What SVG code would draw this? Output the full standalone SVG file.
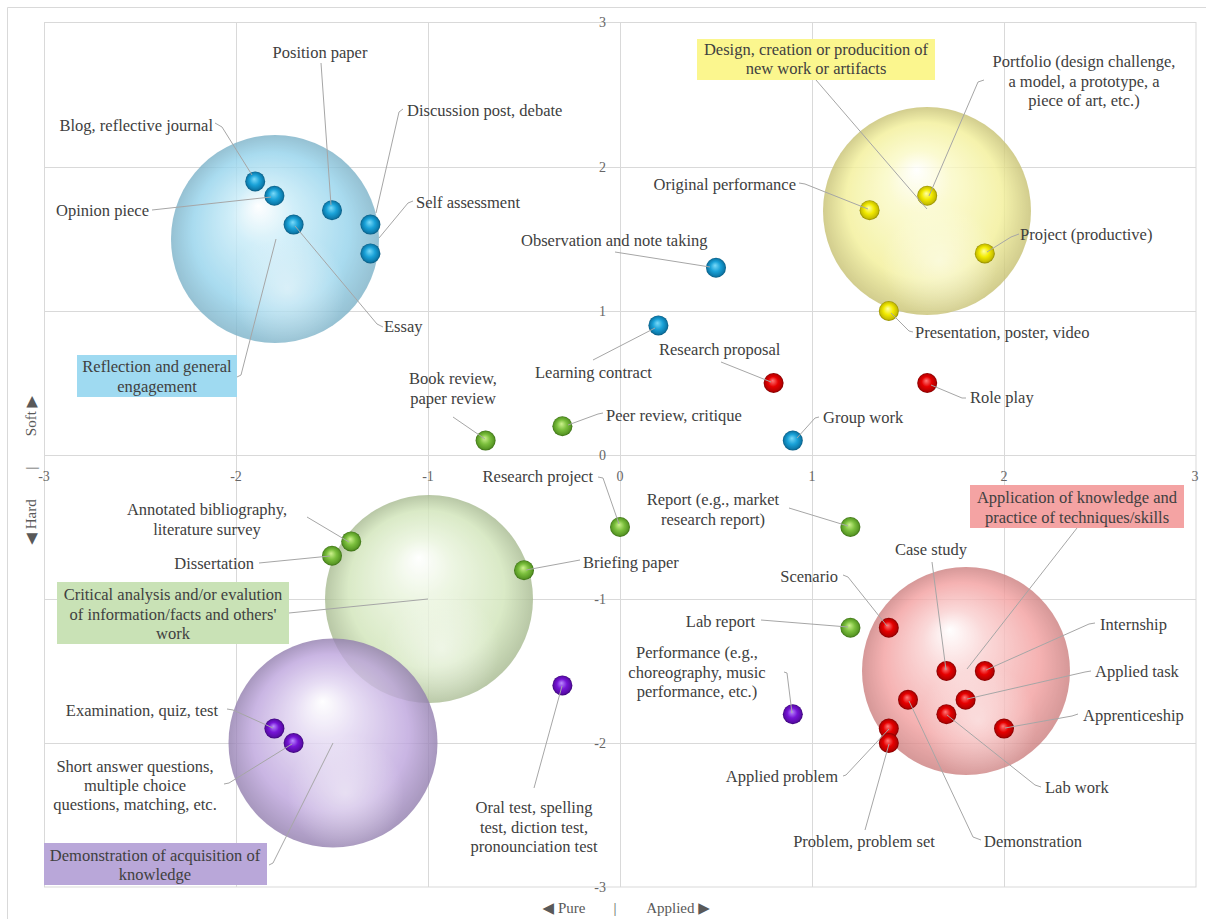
<svg xmlns="http://www.w3.org/2000/svg" width="1206" height="919" viewBox="0 0 1206 919">
<style>
.t{font-family:"Liberation Serif","Times New Roman",serif;font-size:16.5px;fill:#404040}
.m{text-anchor:middle}
.e{text-anchor:end}
.tk{font-family:"Liberation Serif","Times New Roman",serif;font-size:14px;fill:#666666}
.ax{font-family:"Liberation Serif","DejaVu Sans",serif;font-size:15px;fill:#595959}
.tri{font-family:"DejaVu Sans",sans-serif;font-size:15px}
.grid{stroke:#d9d9d9;stroke-width:1;fill:none}
.lead{stroke:#a6a6a6;stroke-width:1;fill:none}
.bub{opacity:0.8}
</style>
<defs>
<radialGradient id="gB" cx="0.5" cy="0.5" r="0.5" fx="0.42" fy="0.34"><stop offset="0" stop-color="#ffffff"/><stop offset="0.3" stop-color="#c6ebf8"/><stop offset="0.75" stop-color="#94d3ec"/><stop offset="1" stop-color="#7cb2c8"/></radialGradient>
<radialGradient id="gY" cx="0.5" cy="0.5" r="0.5" fx="0.45" fy="0.3"><stop offset="0" stop-color="#ffffff"/><stop offset="0.3" stop-color="#fbfac6"/><stop offset="0.75" stop-color="#f3f098"/><stop offset="1" stop-color="#c7c172"/></radialGradient>
<radialGradient id="gG" cx="0.5" cy="0.5" r="0.5" fx="0.45" fy="0.3"><stop offset="0" stop-color="#ffffff"/><stop offset="0.3" stop-color="#e9f4dc"/><stop offset="0.75" stop-color="#d1e5b9"/><stop offset="1" stop-color="#a7ba90"/></radialGradient>
<radialGradient id="gP" cx="0.5" cy="0.5" r="0.5" fx="0.45" fy="0.3"><stop offset="0" stop-color="#ffffff"/><stop offset="0.3" stop-color="#e2d6f2"/><stop offset="0.75" stop-color="#bda4dd"/><stop offset="1" stop-color="#927eae"/></radialGradient>
<radialGradient id="gR" cx="0.5" cy="0.5" r="0.5" fx="0.42" fy="0.3"><stop offset="0" stop-color="#ffffff"/><stop offset="0.3" stop-color="#fad0d0"/><stop offset="0.75" stop-color="#f39f9f"/><stop offset="1" stop-color="#cc7f7f"/></radialGradient>
<radialGradient id="glow" cx="0.56" cy="0.74" r="0.28"><stop offset="0" stop-color="#ffffff" stop-opacity="0.5"/><stop offset="1" stop-color="#ffffff" stop-opacity="0"/></radialGradient>
<radialGradient id="sB" cx="0.5" cy="0.5" r="0.5" fx="0.45" fy="0.38"><stop offset="0" stop-color="#7adaf9"/><stop offset="0.5" stop-color="#1aa2d8"/><stop offset="0.85" stop-color="#0d7cad"/><stop offset="1" stop-color="#0a5a80"/></radialGradient>
<radialGradient id="sY" cx="0.5" cy="0.5" r="0.5" fx="0.45" fy="0.38"><stop offset="0" stop-color="#ffffa6"/><stop offset="0.5" stop-color="#f2ea00"/><stop offset="0.85" stop-color="#c9c000"/><stop offset="1" stop-color="#8f8800"/></radialGradient>
<radialGradient id="sR" cx="0.5" cy="0.5" r="0.5" fx="0.45" fy="0.38"><stop offset="0" stop-color="#ff7a7a"/><stop offset="0.5" stop-color="#e60000"/><stop offset="0.85" stop-color="#b80000"/><stop offset="1" stop-color="#7d0000"/></radialGradient>
<radialGradient id="sG" cx="0.5" cy="0.5" r="0.5" fx="0.45" fy="0.38"><stop offset="0" stop-color="#cdf28e"/><stop offset="0.5" stop-color="#7bbf3d"/><stop offset="0.85" stop-color="#5a9a26"/><stop offset="1" stop-color="#3a6e14"/></radialGradient>
<radialGradient id="sP" cx="0.5" cy="0.5" r="0.5" fx="0.45" fy="0.38"><stop offset="0" stop-color="#bb8cff"/><stop offset="0.5" stop-color="#7614d6"/><stop offset="0.85" stop-color="#5a0caa"/><stop offset="1" stop-color="#3a0575"/></radialGradient>
</defs>

<rect x="0" y="0" width="1206" height="919" fill="#ffffff"/>
<path d="M7.5,919 V7.5 H1206" stroke="#d9d9d9" fill="none"/>

<g id="grid">
<rect x="44.5" y="22.5" width="1151.5" height="864.5" class="grid"/>
<path class="grid" d="M236.5,22 V887 M428.5,22 V887 M620.5,22 V887 M812.5,22 V887 M1004.5,22 V887 M44,167.5 H1196 M44,311.5 H1196 M44,455.5 H1196 M44,599.5 H1196 M44,743.5 H1196"/>
</g>

<g id="ticks">
<text class="tk m" x="44" y="481">-3</text>
<text class="tk m" x="236" y="481">-2</text>
<text class="tk m" x="428" y="481">-1</text>
<text class="tk m" x="620" y="481">0</text>
<text class="tk m" x="812" y="481">1</text>
<text class="tk m" x="1004" y="481">2</text>
<text class="tk m" x="1195" y="481">3</text>
<text class="tk e" x="606" y="27">3</text>
<text class="tk e" x="606" y="172">2</text>
<text class="tk e" x="606" y="316">1</text>
<text class="tk e" x="606" y="460">0</text>
<text class="tk e" x="606" y="604">-1</text>
<text class="tk e" x="606" y="748">-2</text>
<text class="tk e" x="606" y="892">-3</text>
</g>

<g id="axis-titles">
<text class="ax m" x="564" y="913"><tspan class="tri">◀</tspan> Pure</text>
<text class="ax m" x="615" y="913">|</text>
<text class="ax m" x="678" y="913">Applied <tspan class="tri">▶</tspan></text>
<text class="ax m" transform="translate(36,416) rotate(-90)">Soft <tspan class="tri">▶</tspan></text>
<text class="ax m" transform="translate(36,468) rotate(-90)">|</text>
<text class="ax m" transform="translate(36,522) rotate(-90)"><tspan class="tri">◀</tspan> Hard</text>
</g>

<g id="bubble-green" class="bub"><circle cx="429" cy="599" r="104" fill="url(#gG)"/><circle cx="429" cy="599" r="104" fill="url(#glow)"/></g>
<g id="bubble-purple" class="bub"><circle cx="333" cy="743" r="104.5" fill="url(#gP)"/><circle cx="333" cy="743" r="104.5" fill="url(#glow)"/></g>
<g id="bubble-blue" class="bub"><circle cx="275" cy="239" r="104" fill="url(#gB)"/><circle cx="275" cy="239" r="104" fill="url(#glow)"/></g>
<g id="bubble-yellow" class="bub"><circle cx="927" cy="211" r="104" fill="url(#gY)"/><circle cx="927" cy="211" r="104" fill="url(#glow)"/></g>
<g id="bubble-red" class="bub"><circle cx="966" cy="671" r="104" fill="url(#gR)"/><circle cx="966" cy="671" r="104" fill="url(#glow)"/></g>

<g id="cat-reflection"><rect x="77" y="355" width="160" height="42" fill="#9fdaf1"/><text class="t m" x="157" y="372">Reflection and general<tspan x="157" y="392">engagement</tspan></text></g>
<g id="cat-design"><rect x="697" y="39" width="238" height="41" fill="#fbf68e"/><text class="t m" x="816" y="55">Design, creation or producition of<tspan x="816" y="74">new work or artifacts</tspan></text></g>
<g id="cat-application"><rect x="970" y="485" width="214" height="43" fill="#f4a3a3"/><text class="t m" x="1077" y="503">Application of knowledge and<tspan x="1077" y="523">practice of techniques/skills</tspan></text></g>
<g id="cat-critical"><rect x="57" y="582" width="232" height="62" fill="#c9e2b6"/><text class="t m" x="173" y="600">Critical analysis and/or evalution<tspan x="173" y="620">of information/facts and others'</tspan><tspan x="173" y="639">work</tspan></text></g>
<g id="cat-acquisition"><rect x="44" y="843" width="223" height="42" fill="#b9a7d9"/><text class="t m" x="155" y="861">Demonstration of acquisition of<tspan x="155" y="880">knowledge</tspan></text></g>

<g id="p-blog"><circle cx="255.2" cy="181.4" r="10" fill="url(#sB)"/><text class="t e" x="213" y="131">Blog, reflective journal</text></g>
<g id="p-opinion"><circle cx="274.4" cy="195.8" r="10" fill="url(#sB)"/><text class="t e" x="149" y="216">Opinion piece</text></g>
<g id="p-essay"><circle cx="293.6" cy="224.6" r="10" fill="url(#sB)"/><text class="t" x="384" y="332">Essay</text></g>
<g id="p-position"><circle cx="332" cy="210.2" r="10" fill="url(#sB)"/><text class="t m" x="320" y="58">Position paper</text></g>
<g id="p-discussion"><circle cx="370.4" cy="224.6" r="10" fill="url(#sB)"/><text class="t" x="407" y="116">Discussion post, debate</text></g>
<g id="p-self"><circle cx="370.4" cy="253.4" r="10" fill="url(#sB)"/><text class="t" x="416" y="208">Self assessment</text></g>
<g id="p-observation"><circle cx="716" cy="267.8" r="10" fill="url(#sB)"/><text class="t" x="521" y="246">Observation and note taking</text></g>
<g id="p-learning"><circle cx="658.4" cy="325.4" r="10" fill="url(#sB)"/><text class="t" x="535" y="378">Learning contract</text></g>
<g id="p-group"><circle cx="792.8" cy="440.6" r="10" fill="url(#sB)"/><text class="t" x="823" y="423">Group work</text></g>

<g id="p-original"><circle cx="869.6" cy="210.2" r="10" fill="url(#sY)"/><text class="t e" x="796" y="190">Original performance</text></g>
<g id="p-portfolio"><circle cx="927.2" cy="195.8" r="10" fill="url(#sY)"/><text class="t m" x="1084" y="67">Portfolio (design challenge,<tspan x="1084" y="87">a model, a prototype, a</tspan><tspan x="1084" y="106">piece of art, etc.)</tspan></text></g>
<g id="p-project"><circle cx="984.8" cy="253.4" r="10" fill="url(#sY)"/><text class="t" x="1020" y="240">Project (productive)</text></g>
<g id="p-presentation"><circle cx="888.8" cy="311" r="10" fill="url(#sY)"/><text class="t" x="915" y="338">Presentation, poster, video</text></g>

<g id="p-research-proposal"><circle cx="773.6" cy="383" r="10" fill="url(#sR)"/><text class="t" x="659" y="355">Research proposal</text></g>
<g id="p-role-play"><circle cx="927.2" cy="383" r="10" fill="url(#sR)"/><text class="t" x="970" y="403">Role play</text></g>
<g id="p-scenario"><circle cx="888.8" cy="627.8" r="10" fill="url(#sR)"/><text class="t e" x="838" y="582">Scenario</text></g>
<g id="p-case"><circle cx="946.4" cy="671" r="10" fill="url(#sR)"/><text class="t m" x="931" y="555">Case study</text></g>
<g id="p-internship"><circle cx="984.8" cy="671" r="10" fill="url(#sR)"/><text class="t" x="1100" y="630">Internship</text></g>
<g id="p-applied-task"><circle cx="965.6" cy="699.8" r="10" fill="url(#sR)"/><text class="t" x="1095" y="677">Applied task</text></g>
<g id="p-demonstration"><circle cx="908" cy="699.8" r="10" fill="url(#sR)"/><text class="t" x="984" y="847">Demonstration</text></g>
<g id="p-lab-work"><circle cx="946.4" cy="714.2" r="10" fill="url(#sR)"/><text class="t" x="1045" y="793">Lab work</text></g>
<g id="p-apprenticeship"><circle cx="1004" cy="728.6" r="10" fill="url(#sR)"/><text class="t" x="1083" y="721">Apprenticeship</text></g>
<g id="p-applied-problem"><circle cx="888.8" cy="728.6" r="10" fill="url(#sR)"/><text class="t e" x="838" y="782">Applied problem</text></g>
<g id="p-problem-set"><circle cx="888.8" cy="743" r="10" fill="url(#sR)"/><text class="t m" x="864" y="847">Problem, problem set</text></g>

<g id="p-book"><circle cx="485.6" cy="440.6" r="10" fill="url(#sG)"/><text class="t m" x="453" y="384">Book review,<tspan x="453" y="404">paper review</tspan></text></g>
<g id="p-peer"><circle cx="562.4" cy="426.2" r="10" fill="url(#sG)"/><text class="t" x="606" y="421">Peer review, critique</text></g>
<g id="p-research-project"><circle cx="620" cy="527" r="10" fill="url(#sG)"/><text class="t e" x="593" y="482">Research project</text></g>
<g id="p-report"><circle cx="850.4" cy="527" r="10" fill="url(#sG)"/><text class="t m" x="713" y="505">Report (e.g., market<tspan x="713" y="525">research report)</tspan></text></g>
<g id="p-annotated"><circle cx="351.2" cy="541.4" r="10" fill="url(#sG)"/><text class="t m" x="207" y="515">Annotated bibliography,<tspan x="207" y="535">literature survey</tspan></text></g>
<g id="p-dissertation"><circle cx="332" cy="555.8" r="10" fill="url(#sG)"/><text class="t e" x="254" y="569">Dissertation</text></g>
<g id="p-briefing"><circle cx="524" cy="570.2" r="10" fill="url(#sG)"/><text class="t" x="583" y="568">Briefing paper</text></g>
<g id="p-lab-report"><circle cx="850.4" cy="627.8" r="10" fill="url(#sG)"/><text class="t e" x="755" y="627">Lab report</text></g>

<g id="p-exam"><circle cx="274.4" cy="728.6" r="10" fill="url(#sP)"/><text class="t e" x="218" y="716">Examination, quiz, test</text></g>
<g id="p-short"><circle cx="293.6" cy="743" r="10" fill="url(#sP)"/><text class="t m" x="135" y="772">Short answer questions,<tspan x="135" y="791">multiple choice</tspan><tspan x="135" y="810">questions, matching, etc.</tspan></text></g>
<g id="p-oral"><circle cx="562.4" cy="685.4" r="10" fill="url(#sP)"/><text class="t m" x="534" y="813">Oral test, spelling<tspan x="534" y="833">test, diction test,</tspan><tspan x="534" y="852">pronounciation test</tspan></text></g>
<g id="p-performance"><circle cx="792.8" cy="714.2" r="10" fill="url(#sP)"/><text class="t m" x="697" y="658">Performance (e.g.,<tspan x="697" y="678">choreography, music</tspan><tspan x="697" y="697">performance, etc.)</tspan></text></g>

<g id="connectors" class="lead">
<path d="M321,63 L331,205"/>
<path d="M215,123 L222,127 L252,175"/>
<path d="M152,210 L271,197"/>
<path d="M403,109 L399,112 L376,213"/>
<path d="M413,201 L408,203 L379,238"/>
<path d="M383,327 L377,324 L295,226"/>
<path d="M237,377 L241,375 L276,239"/>
<path d="M615,252 L710,267"/>
<path d="M593,360 L655,328"/>
<path d="M721,362 L771,382"/>
<path d="M453,417 L485,439"/>
<path d="M603,413 L598,414 L568,425"/>
<path d="M819,417 L815,418 L797,438"/>
<path d="M966,398 L962,398 L931,385"/>
<path d="M816,80 L927,209"/>
<path d="M984,80 L978,82 L929,196"/>
<path d="M799,183 L805,184 L868,209"/>
<path d="M1019,234 L1011,237 L987,252"/>
<path d="M913,332 L909,331 L891,313"/>
<path d="M598,477 L603,478 L619,524"/>
<path d="M789,508 L848,526"/>
<path d="M1077,528 L967,669"/>
<path d="M932,562 L946,670"/>
<path d="M843,575 L848,577 L887,626"/>
<path d="M761,620 L848,627"/>
<path d="M784,672 L787,673 L792,713"/>
<path d="M1095,623 L1089,624 L986,670"/>
<path d="M1091,671 L1085,672 L967,699"/>
<path d="M1078,714 L1072,716 L1005,728"/>
<path d="M1041,787 L1035,785 L947,715"/>
<path d="M981,840 L973,837 L909,701"/>
<path d="M843,776 L846,775 L889,729"/>
<path d="M865,830 L889,744"/>
<path d="M307,517 L349,542"/>
<path d="M259,563 L330,556"/>
<path d="M580,560 L526,570"/>
<path d="M289,613 L428,599"/>
<path d="M227,709 L233,710 L273,728"/>
<path d="M224,784 L229,783 L292,744"/>
<path d="M269,865 L273,863 L333,743"/>
<path d="M534,788 L562,686"/>
</g>
</svg>
